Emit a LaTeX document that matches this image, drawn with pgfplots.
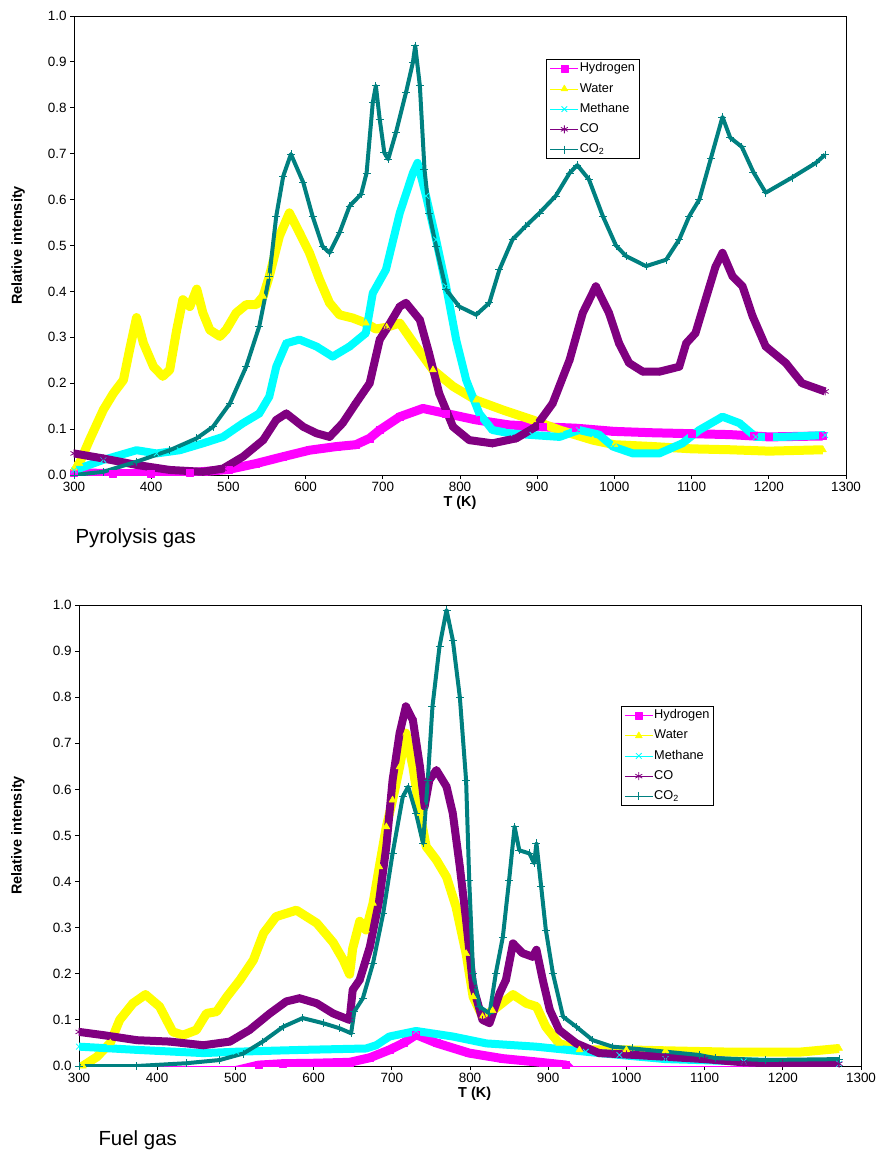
\documentclass[border=0pt]{standalone}
\usepackage{fontspec}
\setmainfont{Liberation Sans}
\usepackage{pgfplots}
\usepackage{pgfplotstable}
\pgfplotsset{compat=1.18}
\definecolor{cH}{RGB}{255,0,255}
\definecolor{cW}{RGB}{255,255,0}
\definecolor{cM}{RGB}{0,255,255}
\definecolor{cCO}{RGB}{128,0,128}
\definecolor{cCOt}{RGB}{0,128,128}

% ---------- Pyrolysis gas ----------
\pgfplotstableread{
T v
300 0.005
350 0.003
400 0.003
450 0.005
500 0.012
536 0.025
571 0.040
605 0.054
640 0.062
665 0.066
683 0.080
696 0.098
722 0.127
752 0.145
782 0.134
821 0.120
864 0.109
907 0.105
950 0.102
1000 0.095
1050 0.092
1100 0.090
1150 0.088
1180 0.085
1200 0.083
1270 0.085
}\pyrH
\pgfplotstableread{
T v
300 0.015
307 0.025
320 0.076
338 0.142
351 0.178
364 0.207
372 0.273
381 0.343
390 0.287
403 0.236
415 0.215
424 0.229
433 0.316
441 0.382
450 0.367
459 0.405
467 0.353
476 0.316
489 0.302
497 0.316
510 0.353
523 0.371
536 0.371
545 0.389
553 0.433
566 0.520
579 0.571
592 0.528
605 0.484
618 0.426
631 0.375
644 0.349
661 0.342
678 0.331
691 0.318
705 0.322
722 0.331
743 0.280
765 0.229
791 0.193
821 0.163
855 0.142
894 0.120
929 0.098
972 0.076
1000 0.066
1050 0.062
1100 0.057
1150 0.055
1200 0.052
1270 0.055
}\pyrW
\pgfplotstableread{
T v
300 0.010
338 0.033
381 0.054
407 0.047
437 0.054
467 0.069
493 0.083
519 0.113
540 0.134
553 0.171
562 0.236
575 0.287
592 0.295
614 0.280
635 0.258
657 0.280
678 0.309
687 0.396
704 0.447
722 0.571
739 0.658
745 0.680
756 0.608
769 0.513
782 0.411
795 0.295
808 0.207
825 0.134
842 0.098
864 0.091
894 0.087
929 0.083
954 0.098
980 0.088
998 0.062
1024 0.047
1058 0.047
1088 0.069
1110 0.098
1140 0.127
1162 0.113
1183 0.083
1218 0.083
1273 0.087
}\pyrM
\pgfplotstableread{
T v
300 0.047
338 0.036
381 0.022
424 0.011
467 0.007
493 0.014
519 0.040
545 0.076
562 0.120
575 0.134
597 0.105
614 0.091
631 0.083
648 0.113
665 0.156
683 0.200
696 0.295
704 0.316
722 0.367
730 0.375
748 0.338
760 0.265
773 0.178
791 0.105
812 0.076
842 0.069
873 0.080
898 0.105
920 0.156
942 0.251
959 0.353
976 0.411
993 0.353
1006 0.287
1019 0.244
1037 0.225
1058 0.225
1084 0.236
1093 0.287
1105 0.309
1118 0.382
1131 0.454
1140 0.484
1153 0.433
1166 0.411
1179 0.346
1196 0.280
1222 0.244
1243 0.200
1273 0.182
}\pyrCO
\pgfplotstableread{
T v
300 0.000
338 0.007
381 0.029
424 0.054
459 0.080
480 0.105
502 0.156
523 0.236
540 0.324
553 0.433
562 0.564
571 0.651
581 0.699
597 0.637
609 0.564
622 0.498
631 0.484
644 0.528
657 0.586
672 0.612
679 0.658
687 0.811
691 0.848
696 0.775
702 0.702
707 0.688
717 0.746
730 0.833
739 0.899
742 0.935
748 0.848
754 0.666
760 0.571
769 0.498
782 0.404
799 0.367
821 0.349
838 0.375
851 0.447
868 0.513
885 0.542
903 0.571
924 0.608
942 0.658
952 0.675
967 0.644
985 0.564
1002 0.500
1015 0.477
1041 0.455
1067 0.469
1084 0.513
1097 0.564
1110 0.600
1125 0.690
1140 0.780
1150 0.735
1165 0.715
1180 0.660
1196 0.615
1230 0.648
1261 0.680
1273 0.698
}\pyrCOt

% ---------- Fuel gas ----------
\pgfplotstableread{
T v
300 -0.010
500 -0.010
530 0.002
560 0.005
600 0.006
646 0.008
672 0.018
697 0.035
715 0.050
731 0.068
757 0.050
799 0.028
842 0.016
884 0.009
923 0.002
930 -0.010
1270 -0.010
}\fuH
\pgfplotstableread{
T v
300 -0.005
305 0.000
323 0.020
340 0.050
352 0.100
369 0.136
385 0.155
403 0.129
420 0.074
433 0.067
450 0.078
463 0.114
476 0.118
489 0.150
506 0.187
523 0.230
536 0.288
552 0.324
578 0.338
604 0.310
625 0.268
638 0.230
646 0.199
650 0.255
659 0.314
667 0.295
676 0.353
684 0.432
693 0.519
701 0.577
710 0.649
718 0.722
727 0.649
736 0.548
744 0.476
757 0.447
770 0.410
782 0.346
795 0.244
804 0.150
816 0.107
829 0.120
855 0.155
872 0.136
885 0.129
897 0.085
914 0.049
940 0.035
1000 0.035
1050 0.033
1136 0.030
1221 0.030
1272 0.038
}\fuW
\pgfplotstableread{
T v
300 0.042
374 0.035
459 0.028
501 0.031
586 0.035
667 0.038
680 0.045
697 0.064
731 0.076
778 0.064
821 0.049
884 0.042
948 0.031
991 0.024
1050 0.015
1150 0.010
1272 0.005
}\fuM
\pgfplotstableread{
T v
300 0.074
331 0.067
374 0.056
416 0.053
459 0.045
493 0.053
518 0.078
544 0.114
565 0.140
582 0.147
604 0.136
625 0.114
646 0.100
650 0.165
659 0.187
672 0.259
684 0.360
693 0.476
701 0.620
710 0.722
718 0.780
727 0.750
736 0.649
742 0.563
748 0.620
757 0.642
770 0.606
778 0.548
787 0.432
795 0.317
804 0.172
816 0.100
825 0.093
838 0.158
846 0.187
855 0.266
867 0.245
880 0.237
885 0.252
893 0.187
902 0.122
914 0.078
936 0.049
965 0.028
1000 0.025
1050 0.020
1100 0.015
1150 0.008
1200 0.005
1272 0.005
}\fuCO
\pgfplotstableread{
T v
300 0.000
374 0.000
437 0.006
480 0.013
510 0.027
535 0.053
561 0.085
586 0.104
612 0.093
633 0.082
648 0.071
652 0.118
663 0.147
676 0.223
689 0.331
701 0.461
714 0.584
721 0.606
731 0.548
740 0.483
746 0.620
752 0.780
761 0.910
770 0.989
778 0.924
787 0.800
795 0.620
799 0.403
804 0.201
812 0.129
825 0.114
833 0.201
842 0.280
850 0.403
857 0.519
863 0.468
876 0.461
882 0.440
885 0.483
891 0.389
897 0.295
906 0.201
919 0.107
936 0.085
957 0.056
982 0.042
1008 0.038
1093 0.024
1114 0.017
1178 0.013
1272 0.015
}\fuCOt

\pgfplotsset{
 gasaxis/.style={
  scale only axis,
  xmin=300, xmax=1300, ymin=0, ymax=1,
  xtick={300,400,500,600,700,800,900,1000,1100,1200,1300},
  ytick={0,0.1,0.2,0.3,0.4,0.5,0.6,0.7,0.8,0.9,1.0},
  tick align=outside, xtick pos=bottom, ytick pos=left,
  major tick length=4bp,
  axis line style={line width=1bp},
  every tick/.style={black, line width=1bp},
  tick label style={font=\fontsize{13.5}{15}\selectfont},
  /pgf/number format/assume math mode=true,
  /pgf/number format/1000 sep={},
  yticklabel style={/pgf/number format/fixed, /pgf/number format/fixed zerofill, /pgf/number format/precision=1},
  legend cell align=left,
  legend style={draw=black, line width=1bp, fill=white,
     font=\fontsize{12.8}{14}\selectfont, row sep=6bp,
     nodes={inner sep=1bp, text height=9.2bp, text depth=3bp}},
  legend image code/.code={\draw[mark repeat=2,mark phase=2,##1,line width=0.8bp] plot coordinates {(0bp,0bp) (14bp,0bp) (28bp,0bp)};},
  xlabel={T (K)}, ylabel={Relative intensity},
  label style={font=\fontsize{14.5}{16}\selectfont\bfseries},
 },
 sH/.style={cH, line width=9bp, line join=round, mark=square*, mark size=3.5bp, mark options={line width=0.5bp, fill=cH, draw=cH}},
 sW/.style={cW, line width=9bp, line join=round, mark=triangle*, mark size=4bp, mark options={line width=0.5bp, fill=cW, draw=cW}},
 sM/.style={cM, line width=8bp, line join=round, mark=x, mark size=4bp, mark options={line width=0.8bp, draw=cM}},
 sCO/.style={cCO, line width=8bp, line join=round, mark=asterisk, mark size=4bp, mark options={line width=0.8bp, draw=cCO}},
 sCOt/.style={cCOt, line width=4bp, line join=round, mark=+, mark size=4bp, mark options={line width=0.8bp, draw=cCOt}},
}

\begin{document}
\begin{tikzpicture}
\useasboundingbox (0,0) rectangle (880bp,-1153bp);
\begin{axis}[gasaxis, at={(74bp,-16bp)}, anchor=north west, width=772bp, height=459bp,
  xlabel style={at={(axis description cs:0.5,-0.039)}, anchor=north},
  ylabel style={at={(axis description cs:-0.0725,0.5)}, anchor=center},
  legend style={at={(0.612,0.906)}, anchor=north west}]
\addplot[sH] table[x=T,y=v] {\pyrH};
\addplot[sW] table[x=T,y=v] {\pyrW};
\addplot[sM] table[x=T,y=v] {\pyrM};
\addplot[sCO] table[x=T,y=v] {\pyrCO};
\addplot[sCOt] table[x=T,y=v] {\pyrCOt};
\legend{Hydrogen,Water,Methane,CO,CO\textsubscript{2}}
\end{axis}
\begin{axis}[gasaxis, at={(79bp,-605bp)}, anchor=north west, width=782bp, height=461bp,
  xlabel style={at={(axis description cs:0.506,-0.039)}, anchor=north},
  ylabel style={at={(axis description cs:-0.078,0.5)}, anchor=center},
  legend style={at={(0.693,0.781)}, anchor=north west}]
\addplot[sH] table[x=T,y=v] {\fuH};
\addplot[sW] table[x=T,y=v] {\fuW};
\addplot[sM] table[x=T,y=v] {\fuM};
\addplot[sCO] table[x=T,y=v] {\fuCO};
\addplot[sCOt] table[x=T,y=v] {\fuCOt};
\legend{Hydrogen,Water,Methane,CO,CO\textsubscript{2}}
\end{axis}
\node[anchor=west, font=\fontsize{20.5}{23}\selectfont] at (72bp,-538bp) {Pyrolysis gas};
\node[anchor=west, font=\fontsize{20.5}{23}\selectfont] at (95bp,-1140bp) {Fuel gas};
\end{tikzpicture}
\end{document}
